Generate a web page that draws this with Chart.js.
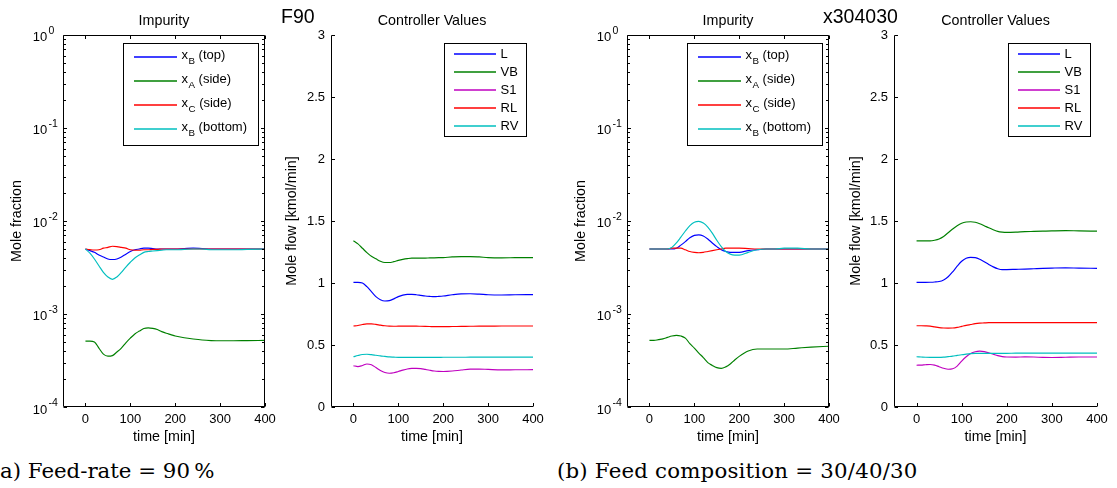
<!DOCTYPE html>
<html>
<head>
<meta charset="utf-8">
<script src="https://cdn.jsdelivr.net/npm/chart.js@4/dist/chart.umd.min.js"></script>
<style>
  html, body { margin: 0; padding: 0; background: #fff; }
  #wrap { position: relative; width: 1117px; height: 488px; overflow: hidden; background: #fff; }
  canvas { position: absolute; top: 0; }
  .txt { position: absolute; white-space: nowrap; line-height: 1; color: #000; }
  .big { font-family: "Liberation Sans", Arial, sans-serif; font-size: 19.5px; }
  .cap { font-family: "DejaVu Serif", "Liberation Serif", serif; font-size: 21.3px; }
</style>
</head>
<body>
<div id="wrap">
  <canvas id="c1" width="10" height="10"></canvas>
  <canvas id="c2" width="10" height="10"></canvas>
  <canvas id="c3" width="10" height="10"></canvas>
  <canvas id="c4" width="10" height="10"></canvas>
  <div class="txt big" style="left:281px; top:7px;">F90</div>
  <div class="txt big" style="left:823px; top:7px;">x304030</div>
  <div class="txt cap" style="left:0px; top:460px;">a) Feed-rate = 90&#8201;%</div>
  <div class="txt cap" style="left:557px; top:460px; letter-spacing:0.2px;">(b) Feed composition = 30/40/30</div>
</div>
<script>
// ---------------- data ----------------
const time = [0,10,20,30,40,50,60,70,80,90,100,110,120,130,140,150,160,170,180,190,200,220,240,260,280,300,330,360,400];

const timeTicks = [0,100,200,300,400];
const logTicks = [1e-4,1e-3,1e-2,1e-1,1];
const logTickLabels = ['10^-4','10^-3','10^-2','10^-1','10^0'];
const flowTicks = [0,0.5,1,1.5,2,2.5,3];
const flowTickLabels = ['0','0.5','1','1.5','2','2.5','3'];

const impurityLabels = ['x_B (top)','x_A (side)','x_C (side)','x_B (bottom)'];
const controllerLabels = ['L','VB','S1','RL','RV'];

// (a) Feed-rate = 90 %  — impurities
const xBtopA  = [0.005,0.0048,0.0046,0.0043,0.0041,0.0039,0.00385,0.0039,0.0041,0.0044,0.0047,0.0049,0.005,0.0051,0.0051,0.00505,0.005,0.005,0.005,0.005,0.005,0.00505,0.0051,0.00505,0.005,0.005,0.005,0.005,0.005];
const xAsideA = [0.00051,0.00051,0.0005,0.00043,0.00037,0.000352,0.000357,0.00039,0.00043,0.00049,0.00055,0.00061,0.000655,0.000697,0.00071,0.0007,0.00068,0.000646,0.00062,0.0006,0.00058,0.000555,0.000538,0.000525,0.000518,0.000515,0.000515,0.000518,0.00052];
const xCsideA = [0.005,0.00492,0.00487,0.0049,0.0051,0.0052,0.00535,0.0053,0.0052,0.0051,0.0049,0.00485,0.00485,0.0049,0.0049,0.00495,0.00495,0.005,0.005,0.005,0.005,0.005,0.005,0.005,0.005,0.005,0.005,0.005,0.005];
const xBbotA  = [0.005,0.0045,0.0039,0.0033,0.0028,0.0025,0.00236,0.0025,0.0028,0.0032,0.0036,0.004,0.0043,0.0046,0.0047,0.00475,0.0048,0.00485,0.0049,0.0049,0.0049,0.00495,0.005,0.005,0.0049,0.0049,0.0049,0.00495,0.005];

// (a) controller values
const LA  = [1.005,1.005,1.0,0.97,0.93,0.89,0.865,0.855,0.858,0.872,0.89,0.902,0.908,0.908,0.905,0.9,0.895,0.892,0.89,0.892,0.895,0.905,0.912,0.913,0.91,0.905,0.903,0.905,0.906];
const VBA = [1.34,1.315,1.28,1.245,1.215,1.195,1.175,1.165,1.165,1.172,1.182,1.19,1.196,1.2,1.2,1.2,1.2,1.202,1.203,1.204,1.205,1.21,1.213,1.213,1.21,1.205,1.203,1.204,1.205];
const S1A = [0.333,0.326,0.335,0.347,0.34,0.318,0.295,0.278,0.272,0.276,0.286,0.297,0.306,0.311,0.312,0.31,0.303,0.296,0.29,0.287,0.286,0.29,0.298,0.305,0.306,0.303,0.299,0.3,0.301];
const RLA = [0.653,0.657,0.665,0.67,0.67,0.666,0.66,0.655,0.652,0.651,0.652,0.652,0.652,0.652,0.652,0.651,0.65,0.649,0.648,0.648,0.648,0.649,0.65,0.651,0.652,0.652,0.653,0.653,0.653];
const RVA = [0.405,0.415,0.423,0.425,0.422,0.417,0.412,0.408,0.404,0.402,0.4,0.4,0.4,0.4,0.4,0.4,0.4,0.4,0.4,0.4,0.401,0.401,0.401,0.402,0.402,0.402,0.402,0.402,0.402];

// (b) Feed composition = 30/40/30 — impurities
const xBtopB  = [0.005,0.005,0.005,0.005,0.005,0.005,0.0051,0.0055,0.006,0.0066,0.007,0.0071,0.0069,0.0064,0.0058,0.0053,0.0049,0.0047,0.0046,0.0046,0.0046,0.0048,0.0049,0.005,0.005,0.005,0.005,0.005,0.005];
const xAsideB = [0.00052,0.00052,0.00053,0.00054,0.00056,0.00058,0.00059,0.00058,0.00055,0.00048,0.00043,0.00038,0.00034,0.0003,0.00028,0.000265,0.00026,0.00027,0.00029,0.00032,0.00035,0.0004,0.00042,0.00042,0.00042,0.00042,0.00043,0.00044,0.00045];
const xCsideB = [0.005,0.005,0.005,0.005,0.005,0.0051,0.0051,0.0051,0.0049,0.0047,0.0046,0.00455,0.0046,0.0047,0.0048,0.0049,0.005,0.0051,0.0051,0.0051,0.0051,0.00505,0.005,0.005,0.005,0.005,0.005,0.005,0.005];
const xBbotB  = [0.005,0.005,0.005,0.005,0.005,0.0052,0.0058,0.0067,0.0078,0.0089,0.0097,0.0099,0.0095,0.0086,0.0074,0.0062,0.0053,0.0047,0.0044,0.0043,0.0043,0.0046,0.0049,0.005,0.005,0.0051,0.0051,0.005,0.005];

// (b) controller values
const LB  = [1.005,1.005,1.005,1.006,1.008,1.012,1.025,1.05,1.09,1.135,1.175,1.2,1.207,1.205,1.192,1.172,1.15,1.13,1.115,1.108,1.108,1.11,1.112,1.115,1.118,1.12,1.122,1.12,1.118];
const VBB = [1.34,1.34,1.34,1.34,1.345,1.355,1.375,1.405,1.435,1.462,1.482,1.492,1.494,1.49,1.478,1.462,1.445,1.43,1.416,1.41,1.408,1.41,1.414,1.416,1.418,1.42,1.422,1.42,1.418];
const S1B = [0.337,0.338,0.341,0.343,0.338,0.325,0.312,0.304,0.308,0.33,0.37,0.405,0.432,0.446,0.45,0.447,0.438,0.426,0.414,0.406,0.403,0.402,0.404,0.403,0.4,0.399,0.401,0.403,0.403];
const RLB = [0.655,0.655,0.654,0.652,0.646,0.64,0.637,0.636,0.637,0.642,0.65,0.658,0.665,0.672,0.676,0.678,0.68,0.68,0.68,0.68,0.68,0.68,0.68,0.68,0.68,0.68,0.68,0.68,0.68];
const RVB = [0.405,0.403,0.401,0.4,0.4,0.4,0.402,0.406,0.41,0.416,0.421,0.426,0.43,0.432,0.433,0.433,0.433,0.433,0.433,0.433,0.433,0.434,0.434,0.434,0.434,0.435,0.435,0.435,0.435];

const impurityColors = ['#0000ff','#008000','#ff0000','#00bfbf'];
const controllerColors = ['#0000ff','#008000','#bf00bf','#ff0000','#00bfbf'];

// ---------------- helpers ----------------
const SANS = '"Liberation Sans", Arial, Helvetica, sans-serif';
const TICK_FONT = 13, LABEL_FONT = 14.3, LEGEND_FONT = 13, EXP_FONT = 10.5;

function pts(ys) { return ys.map((v, i) => ({ x: time[i], y: v })); }

const matlabAxes = {
  id: 'matlabAxes',
  afterDatasetsDraw(chart, args, opts) {
    const { ctx, chartArea: a } = chart;
    const xs = chart.scales.x, ys = chart.scales.y;
    const L = Math.round(a.left) + 0.5, R = Math.round(a.right) - 0.5;
    const T = Math.round(a.top) + 0.5, B = Math.round(a.bottom) - 0.5;
    const tl = 3.5, ml = 2.5;
    ctx.save();
    ctx.strokeStyle = '#000';
    ctx.lineWidth = 1;
    ctx.beginPath();
    ctx.moveTo(L, T); ctx.lineTo(L, B); ctx.lineTo(R + 0.5, B);
    if (opts.box) { ctx.moveTo(R, B); ctx.lineTo(R, T); ctx.lineTo(L, T); }
    xs.ticks.forEach(t => {
      const px = Math.round(xs.getPixelForValue(t.value)) + 0.5;
      ctx.moveTo(px, B); ctx.lineTo(px, B - tl);
      if (opts.box) { ctx.moveTo(px, T); ctx.lineTo(px, T + tl); }
    });
    ys.ticks.forEach(t => {
      const py = Math.round(ys.getPixelForValue(t.value)) + 0.5;
      ctx.moveTo(L, py); ctx.lineTo(L + tl, py);
      if (opts.box) { ctx.moveTo(R, py); ctx.lineTo(R - tl, py); }
    });
    if (opts.minorLog) {
      for (let d = -4; d < 0; d++) {
        for (let m = 2; m <= 9; m++) {
          const v = m * Math.pow(10, d);
          const py = Math.round(ys.getPixelForValue(v)) + 0.5;
          ctx.moveTo(L, py); ctx.lineTo(L + ml, py);
          if (opts.box) { ctx.moveTo(R, py); ctx.lineTo(R - ml, py); }
        }
      }
    }
    ctx.stroke();
    // power-of-ten tick labels with raised exponent
    if (opts.powerLabels) {
      ctx.fillStyle = '#000';
      ctx.textBaseline = 'alphabetic';
      logTicks.forEach((v, i) => {
        const py = ys.getPixelForValue(v);
        const [base, exp] = logTickLabels[i].split('^');
        const bx = a.left - 15.7;
        ctx.font = TICK_FONT + 'px ' + SANS;
        ctx.textAlign = 'right';
        ctx.fillText(base, bx, py + 6.5);
        ctx.font = EXP_FONT + 'px ' + SANS;
        ctx.textAlign = 'left';
        ctx.fillText(exp, bx + 1.2, py - 1);
      });
    }
    ctx.restore();
  }
};

const matlabLegend = {
  id: 'matlabLegend',
  afterDraw(chart, args, opts) {
    const { ctx, chartArea: a } = chart;
    const ds = chart.data.datasets;
    const w = opts.width, h = opts.height;
    const bx = Math.round(a.right - opts.right - w) + 0.5;
    const by = Math.round(a.top + opts.top) + 0.5;
    ctx.save();
    ctx.fillStyle = '#fff';
    ctx.fillRect(bx, by, w, h);
    ctx.strokeStyle = '#000';
    ctx.lineWidth = 1;
    ctx.strokeRect(bx, by, w, h);
    ds.forEach((d, i) => {
      const y = Math.round(by + opts.first + i * opts.step);
      ctx.strokeStyle = d.borderColor;
      ctx.lineWidth = 1.3;
      ctx.beginPath();
      ctx.moveTo(Math.round(bx + opts.lineStart), y);
      ctx.lineTo(Math.round(bx + opts.lineStart) + opts.lineLen, y);
      ctx.stroke();
      ctx.fillStyle = '#000';
      ctx.textBaseline = 'middle';
      ctx.textAlign = 'left';
      let tx = bx + opts.textStart;
      const m = /^(.)_(.)(.*)$/.exec(d.label);
      ctx.font = LEGEND_FONT + 'px ' + SANS;
      if (m) {
        ctx.fillText(m[1], tx, y - 1.5);
        tx += ctx.measureText(m[1]).width;
        ctx.font = (LEGEND_FONT * 0.75) + 'px ' + SANS;
        ctx.fillText(m[2], tx + 0.5, y + 4);
        tx += ctx.measureText(m[2]).width + 0.5;
        ctx.font = LEGEND_FONT + 'px ' + SANS;
        ctx.fillText(m[3], tx, y - 1.5);
      } else {
        ctx.fillText(d.label, tx, y);
      }
    });
    ctx.restore();
  }
};

function makePanel(id, cfg) {
  const canvas = document.getElementById(id);
  const width = cfg.plotRight - cfg.canvasLeft + 18;
  canvas.width = width;
  canvas.height = 450;
  canvas.style.left = cfg.canvasLeft + 'px';
  canvas.style.width = width + 'px';
  canvas.style.height = '450px';
  const yW = cfg.plotLeft - cfg.canvasLeft;
  const datasets = cfg.series.map((s, i) => ({
    label: cfg.labels[i],
    data: pts(s),
    borderColor: cfg.colors[i],
    borderWidth: 1.15,
    pointRadius: 0,
    fill: false,
    cubicInterpolationMode: 'monotone',
    order: cfg.series.length - i
  }));
  const yScale = cfg.log ? {
    type: 'logarithmic', min: 1e-4, max: 1,
    afterBuildTicks: s => { s.ticks = logTicks.map(v => ({ value: v })); },
    ticks: { display: false }
  } : {
    type: 'linear', min: 0, max: 3,
    afterBuildTicks: s => { s.ticks = flowTicks.map(v => ({ value: v })); },
    ticks: {
      callback: (v) => flowTickLabels[flowTicks.indexOf(v)],
      color: '#000', font: { size: TICK_FONT, family: SANS }, padding: 6, autoSkip: false
    }
  };
  Object.assign(yScale, {
    position: 'left',
    grid: { display: false, drawTicks: false },
    border: { display: false },
    title: { display: true, text: cfg.yTitle, color: '#000', font: { size: LABEL_FONT, family: SANS }, padding: { top: 8.4, bottom: 0 } },
    afterFit: s => { s.width = yW; }
  });
  return new Chart(canvas, {
    type: 'line',
    data: { datasets },
    options: {
      responsive: false,
      animation: false,
      devicePixelRatio: 1,
      layout: { padding: { left: 0, right: 18, top: 0, bottom: 0 } },
      scales: {
        x: {
          type: 'linear', min: -50, max: 400,
          afterBuildTicks: s => { s.ticks = timeTicks.map(v => ({ value: v })); },
          ticks: { color: '#000', font: { size: TICK_FONT, family: SANS }, padding: 4.5, maxRotation: 0, autoSkip: false },
          grid: { display: false, drawTicks: false },
          border: { display: false },
          title: { display: true, text: 'time [min]', color: '#000', font: { size: LABEL_FONT, family: SANS }, padding: { top: 0, bottom: 4.7 } },
          afterFit: s => { s.height = 43; }
        },
        y: yScale
      },
      plugins: {
        legend: { display: false },
        tooltip: { enabled: false },
        title: {
          display: true, text: cfg.title, color: '#000', fullSize: false,
          font: { size: LABEL_FONT, family: SANS, weight: 'normal' },
          padding: { top: 12.4, bottom: 5.4 }
        },
        matlabAxes: { box: cfg.log, minorLog: cfg.log, powerLabels: cfg.log },
        matlabLegend: cfg.legend
      }
    },
    plugins: [matlabAxes, matlabLegend]
  });
}

const impLegend = { width: 135, height: 102, right: 7.5, top: 8, first: 13, step: 24, lineStart: 10, lineLen: 43, textStart: 58 };
const ctlLegend = { width: 82, height: 93, right: 7.5, top: 8, first: 10.5, step: 18, lineStart: 9.5, lineLen: 42, textStart: 56 };

makePanel('c1', { canvasLeft: 0, plotLeft: 63, plotRight: 265, log: true, title: 'Impurity', yTitle: 'Mole fraction',
  series: [xBtopA, xAsideA, xCsideA, xBbotA], labels: impurityLabels, colors: impurityColors, legend: impLegend });
makePanel('c2', { canvasLeft: 275, plotLeft: 331, plotRight: 533, log: false, title: 'Controller Values', yTitle: 'Mole flow [kmol/min]',
  series: [LA, VBA, S1A, RLA, RVA], labels: controllerLabels, colors: controllerColors, legend: ctlLegend });
makePanel('c3', { canvasLeft: 564, plotLeft: 627, plotRight: 829, log: true, title: 'Impurity', yTitle: 'Mole fraction',
  series: [xBtopB, xAsideB, xCsideB, xBbotB], labels: impurityLabels, colors: impurityColors, legend: impLegend });
makePanel('c4', { canvasLeft: 839, plotLeft: 894, plotRight: 1097, log: false, title: 'Controller Values', yTitle: 'Mole flow [kmol/min]',
  series: [LB, VBB, S1B, RLB, RVB], labels: controllerLabels, colors: controllerColors, legend: ctlLegend });
</script>
</body>
</html>
